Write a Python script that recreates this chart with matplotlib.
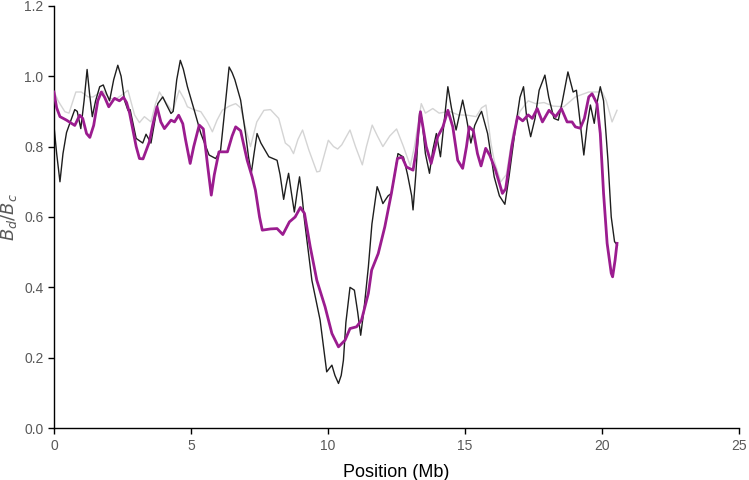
import matplotlib
matplotlib.use("Agg")
import matplotlib.pyplot as plt

plt.rcParams['font.family'] = ['Liberation Sans', 'DejaVu Sans']

# black line (observed)
black_x = [0.0, 0.1, 0.22, 0.33, 0.46, 0.6, 0.76, 0.85, 0.98, 1.1, 1.21, 1.3, 1.4, 1.52,
           1.67, 1.8, 1.92, 2.03, 2.18, 2.33, 2.45, 2.58, 2.7, 2.78, 3.0, 3.24, 3.36, 3.54,
           3.65, 3.79, 3.97, 4.1, 4.27, 4.35, 4.48, 4.61, 4.72, 4.87, 5.12, 5.36, 5.66, 5.9,
           6.08, 6.2, 6.39, 6.5, 6.6, 6.81, 6.99, 7.1, 7.2, 7.3, 7.41, 7.55, 7.84, 8.14,
           8.25, 8.38, 8.47, 8.56, 8.66, 8.77, 8.87, 8.96, 9.05, 9.14, 9.25, 9.41, 9.71,
           9.95, 10.05, 10.14, 10.25, 10.38, 10.48, 10.56, 10.65, 10.8, 10.96, 11.08, 11.19,
           11.3, 11.47, 11.6, 11.79, 11.87, 12.0, 12.19, 12.31, 12.45, 12.55, 12.75, 12.9,
           13.05, 13.1, 13.2, 13.34, 13.42, 13.55, 13.7, 13.82, 13.95, 14.1, 14.25, 14.37,
           14.5, 14.67, 14.91, 15.05, 15.21, 15.35, 15.52, 15.6, 15.82, 16.06, 16.25, 16.45,
           16.6, 16.84, 17.0, 17.13, 17.25, 17.39, 17.55, 17.7, 17.91, 18.05, 18.24, 18.4,
           18.55, 18.75, 18.94, 19.06, 19.15, 19.33, 19.45, 19.57, 19.71, 19.8, 19.93,
           20.05, 20.21, 20.33, 20.45, 20.55]
black_y = [0.86, 0.78, 0.70, 0.78, 0.84, 0.87, 0.905, 0.90, 0.851, 0.93, 1.019, 0.95, 0.885,
           0.93, 0.97, 0.975, 0.95, 0.93, 0.99, 1.031, 1.0, 0.93, 0.903, 0.905, 0.823, 0.81,
           0.835, 0.81, 0.86, 0.922, 0.941, 0.92, 0.894, 0.90, 0.99, 1.045, 1.02, 0.97, 0.903,
           0.837, 0.776, 0.766, 0.79, 0.88, 1.026, 1.01, 0.99, 0.932, 0.837, 0.77, 0.725,
           0.78, 0.837, 0.81, 0.771, 0.761, 0.72, 0.65, 0.69, 0.724, 0.67, 0.614, 0.67, 0.714,
           0.66, 0.59, 0.52, 0.42, 0.307, 0.16, 0.17, 0.179, 0.15, 0.127, 0.15, 0.193, 0.30,
           0.40, 0.392, 0.33, 0.264, 0.33, 0.458, 0.58, 0.686, 0.67, 0.638, 0.66, 0.667, 0.73,
           0.78, 0.77, 0.72, 0.66, 0.62, 0.72, 0.895, 0.88, 0.78, 0.724, 0.79, 0.837, 0.771,
           0.88, 0.97, 0.91, 0.847, 0.932, 0.88, 0.81, 0.86, 0.889, 0.90, 0.837, 0.714, 0.66,
           0.636, 0.714, 0.856, 0.94, 0.97, 0.88, 0.828, 0.88, 0.96, 1.003, 0.94, 0.88, 0.875,
           0.93, 1.012, 0.955, 0.96, 0.90, 0.776, 0.86, 0.918, 0.866, 0.92, 0.97, 0.93, 0.761,
           0.60, 0.53, 0.52]

# purple line (smoothed)
purple_x = [0.0, 0.1, 0.22, 0.46, 0.76, 0.94, 1.05, 1.19, 1.31, 1.45, 1.6, 1.73, 1.85, 2.0,
            2.21, 2.39, 2.54, 2.65, 2.76, 3.0, 3.12, 3.25, 3.48, 3.6, 3.76, 3.9, 4.03, 4.27,
            4.4, 4.55, 4.7, 4.8, 4.97, 5.1, 5.3, 5.45, 5.6, 5.74, 5.85, 6.02, 6.33, 6.5, 6.63,
            6.81, 7.05, 7.23, 7.35, 7.5, 7.6, 7.9, 8.14, 8.35, 8.59, 8.8, 8.99, 9.14, 9.35,
            9.59, 9.89, 10.14, 10.38, 10.62, 10.8, 11.04, 11.22, 11.47, 11.59, 11.83, 12.07,
            12.31, 12.53, 12.7, 12.86, 13.1, 13.22, 13.37, 13.58, 13.76, 14.0, 14.19, 14.37,
            14.55, 14.73, 14.91, 15.05, 15.15, 15.3, 15.45, 15.58, 15.75, 15.9, 16.1, 16.36,
            16.48, 16.7, 16.91, 17.1, 17.3, 17.45, 17.63, 17.82, 18.06, 18.3, 18.51, 18.72,
            18.9, 19.02, 19.2, 19.35, 19.51, 19.63, 19.81, 19.93, 20.05, 20.18, 20.33, 20.38,
            20.47, 20.54]
purple_y = [0.955, 0.91, 0.885, 0.875, 0.86, 0.889, 0.88, 0.837, 0.826, 0.86, 0.93, 0.955,
            0.94, 0.913, 0.937, 0.93, 0.94, 0.925, 0.895, 0.80, 0.766, 0.765, 0.813, 0.86,
            0.913, 0.87, 0.851, 0.875, 0.87, 0.889, 0.865, 0.82, 0.752, 0.80, 0.861, 0.85,
            0.75, 0.662, 0.72, 0.785, 0.785, 0.83, 0.856, 0.845, 0.761, 0.714, 0.676, 0.60,
            0.5625, 0.566, 0.567, 0.55, 0.586, 0.60, 0.627, 0.61, 0.515, 0.42, 0.345, 0.269,
            0.231, 0.25, 0.283, 0.288, 0.307, 0.383, 0.449, 0.496, 0.572, 0.667, 0.766, 0.77,
            0.742, 0.733, 0.79, 0.899, 0.80, 0.752, 0.828, 0.856, 0.903, 0.856, 0.761, 0.738,
            0.80, 0.856, 0.845, 0.78, 0.745, 0.795, 0.775, 0.735, 0.667, 0.68, 0.80, 0.885,
            0.873, 0.89, 0.88, 0.908, 0.87, 0.903, 0.885, 0.908, 0.87, 0.87, 0.856, 0.852,
            0.88, 0.941, 0.95, 0.922, 0.837, 0.667, 0.525, 0.44, 0.43, 0.477, 0.525]

# light grey line (expected)
grey_x = [0.0, 0.15, 0.4, 0.55, 0.8, 1.0, 1.25, 1.43, 1.6, 1.79, 2.03, 2.25, 2.45, 2.7, 2.94,
          3.12, 3.3, 3.54, 3.7, 3.85, 4.0, 4.33, 4.57, 4.75, 4.87, 5.1, 5.36, 5.6, 5.78, 5.95,
          6.14, 6.4, 6.63, 6.81, 7.0, 7.17, 7.4, 7.66, 7.9, 8.2, 8.44, 8.6, 8.74, 8.9, 9.07,
          9.3, 9.59, 9.7, 10.01, 10.2, 10.35, 10.5, 10.8, 11.0, 11.25, 11.4, 11.61, 11.8,
          12.0, 12.25, 12.5, 12.75, 13.0, 13.15, 13.4, 13.55, 13.82, 14.05, 14.43, 14.75,
          15.09, 15.4, 15.6, 15.76, 15.94, 16.06, 16.3, 16.5, 16.75, 17.0, 17.3, 17.57,
          17.88, 18.2, 18.6, 19.02, 19.51, 20.0, 20.15, 20.36, 20.54]
grey_y = [0.958, 0.93, 0.899, 0.895, 0.955, 0.955, 0.941, 0.941, 0.95, 0.958, 0.937, 0.935,
          0.945, 0.96, 0.89, 0.868, 0.885, 0.87, 0.92, 0.955, 0.935, 0.899, 0.96, 0.935,
          0.913, 0.905, 0.899, 0.87, 0.842, 0.875, 0.903, 0.915, 0.922, 0.91, 0.85, 0.80,
          0.87, 0.903, 0.905, 0.88, 0.81, 0.80, 0.78, 0.82, 0.847, 0.79, 0.728, 0.73, 0.818,
          0.80, 0.793, 0.805, 0.847, 0.80, 0.748, 0.80, 0.861, 0.83, 0.80, 0.83, 0.85, 0.80,
          0.745, 0.80, 0.922, 0.895, 0.908, 0.895, 0.90, 0.89, 0.889, 0.885, 0.91, 0.918,
          0.81, 0.76, 0.70, 0.72, 0.84, 0.90, 0.93, 0.922, 0.925, 0.915, 0.913, 0.941, 0.955,
          0.955, 0.93, 0.87, 0.903]

x_ticks = [0, 5, 10, 15, 20, 25]
y_ticks = [0.0, 0.2, 0.4, 0.6, 0.8, 1.0, 1.2]

fig = plt.figure(figsize=(7.49, 4.8), dpi=100)
ax = fig.add_axes([0.072, 0.108, 0.915, 0.88])

ax.plot(grey_x, grey_y, color='#d4d4d4', lw=1.0, zorder=1, solid_joinstyle='round')
ax.plot(black_x, black_y, color='#1e1e1e', lw=1.0, zorder=2, solid_joinstyle='round')
ax.plot(purple_x, purple_y, color='#9b1c8f', lw=2.0, zorder=3, solid_joinstyle='round')

ax.set_xlim(0, 25)
ax.set_ylim(0, 1.2)
ax.set_xticks(x_ticks)
ax.set_yticks(y_ticks)
ax.set_yticklabels([f"{v:.1f}" for v in y_ticks])
for s in ['top', 'right']:
    ax.spines[s].set_visible(False)
for s in ['left', 'bottom']:
    ax.spines[s].set_color('black')
    ax.spines[s].set_linewidth(1.0)
ax.tick_params(direction='out', length=4, width=1, colors='black',
               labelcolor='#595959', labelsize=10)
ax.set_xlabel("Position (Mb)", fontsize=13, color='black', labelpad=8)
ax.set_ylabel("$B_d/B_c$", fontsize=13, color='#595959', labelpad=4)

fig.savefig("out.png", dpi=100)
